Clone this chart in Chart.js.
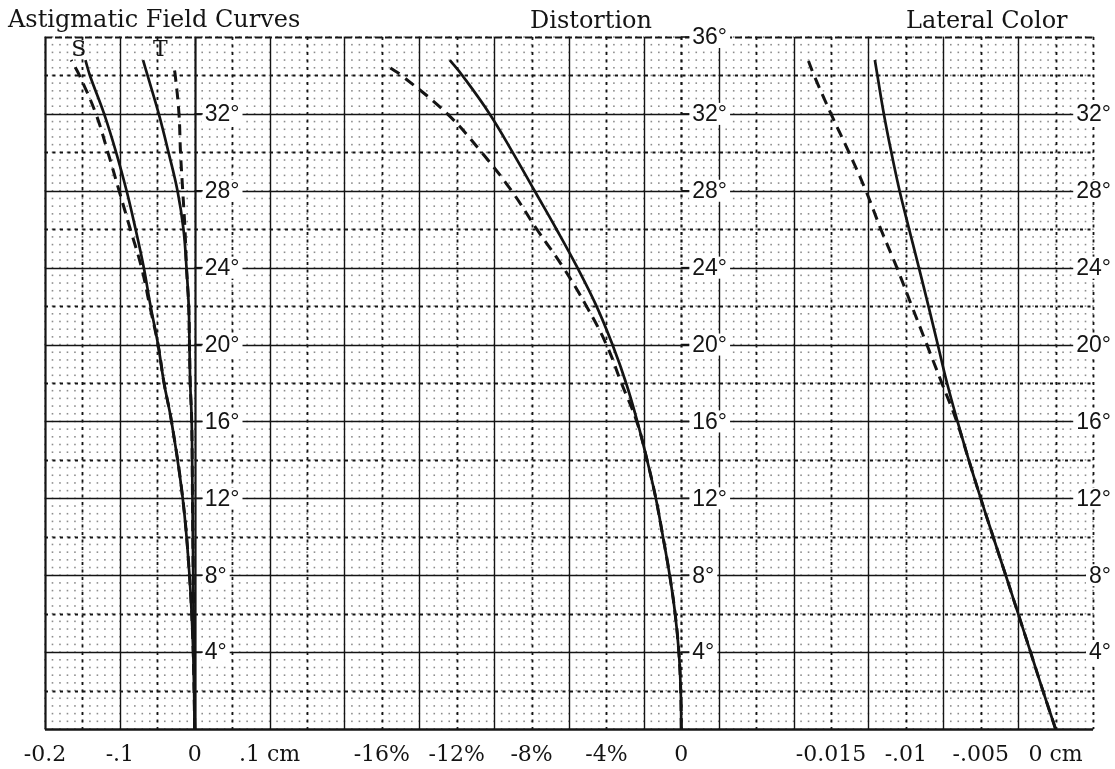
<!DOCTYPE html>
<html>
<head>
<meta charset="utf-8">
<script src="https://cdn.jsdelivr.net/npm/chart.js@4.4.0/dist/chart.umd.min.js"></script>
<style>
  html, body { margin: 0; padding: 0; background: #fff; }
  #wrap { width: 1115px; height: 769px; }
</style>
</head>
<body>
<div id="wrap"><canvas id="chart" width="1115" height="769"></canvas></div>
<script>
// --- DATA (field angle in degrees) ---
const astigAngles = [0, 4, 8, 12, 16, 18, 20, 22, 24, 26, 28, 30, 32, 34, 34.8];
const sagSolid  = [0, -0.002, -0.007, -0.016, -0.031, -0.041, -0.049, -0.059, -0.068, -0.079, -0.091, -0.105, -0.121, -0.140, -0.146];
const sagDashed = [0, -0.002, -0.007, -0.016, -0.031, -0.041, -0.049, -0.060, -0.071, -0.086, -0.101, -0.116, -0.132, -0.154, -0.165];
const tanSolid  = [0, -0.001, -0.002, -0.003, -0.004, -0.006, -0.007, -0.008, -0.011, -0.015, -0.023, -0.035, -0.048, -0.063, -0.069];
const tanDashAngles = [0, 4, 8, 12, 16, 18, 20, 22, 24, 26, 28, 30, 32, 34, 34.5];
const tanDashed = [0, -0.001, -0.002, -0.003, -0.004, -0.006, -0.007, -0.008, -0.011, -0.013, -0.016, -0.019, -0.021, -0.026, -0.028];

const distAngles = [0, 2, 4, 6, 8, 10, 12, 14, 16, 18, 20, 22, 24, 26, 28, 30, 32, 34, 34.8];
const distSolid  = [0, -0.03, -0.13, -0.33, -0.62, -0.98, -1.36, -1.83, -2.35, -2.95, -3.68, -4.53, -5.55, -6.67, -7.84, -9.01, -10.24, -11.7, -12.37];
const distDashAngles = [0, 2, 4, 6, 8, 10, 12, 14, 16, 18, 20, 22, 24, 26, 28, 30, 32, 34, 34.4];
const distDashed = [0, -0.03, -0.13, -0.33, -0.62, -0.98, -1.36, -1.83, -2.38, -3.2, -4.0, -5.07, -6.3, -7.72, -9.07, -10.67, -12.5, -14.95, -15.57];

const latAngles = [0, 2, 4, 6, 8, 10, 12, 14, 16, 18, 20, 22, 24, 26, 28, 30, 32, 34, 34.8];
const latSolid  = [0, -0.00085, -0.00167, -0.0025, -0.00333, -0.00417, -0.005, -0.0058, -0.00655, -0.00725, -0.00787, -0.00849, -0.00913, -0.00978, -0.01042, -0.01097, -0.01147, -0.0119, -0.01207];
const latDashed = [0, -0.00085, -0.00167, -0.0025, -0.00333, -0.00417, -0.005, -0.0058, -0.0066, -0.0076, -0.0086, -0.0096, -0.0106, -0.01167, -0.01267, -0.0138, -0.015, -0.01613, -0.01653];

// --- TICK LABELS ---
const degreeTicks = [4, 8, 12, 16, 20, 24, 28, 32];
const distDegreeTicks = [4, 8, 12, 16, 20, 24, 28, 32, 36];
const astigTicks = [-0.2, -0.1, 0, 0.1];
const astigTickText = ['-0.2', '-.1', '0', '.1 cm'];
const distTicks = [-16, -12, -8, -4, 0];
const distTickText = ['-16%', '-12%', '-8%', '-4%', '0'];
const latTicks = [-0.015, -0.01, -0.005, 0];
const latTickText = ['-0.015', '-.01', '-.005', '0 cm'];

const INK = '#141414';
const SERIF = '"DejaVu Serif", "Liberation Serif", serif';
const SANS = '"Liberation Sans", Arial, sans-serif';

function toPoints(angles, values) {
    return values.map((v, i) => ({ x: v, y: angles[i] }));
}

function curve(angles, values, axisId, dashed) {
    return {
        data: toPoints(angles, values),
        xAxisID: axisId,
        yAxisID: 'y',
        borderColor: INK,
        borderWidth: dashed ? 3 : 2.7,
        borderDash: dashed ? [11, 7] : [],
        pointRadius: 0,
        fill: false,
        tension: 0.4
    };
}

// graph paper + in-plot labels, all placed through the chart scales
const paperPlugin = {
    id: 'paper',
    beforeDatasetsDraw(chart) {
        const { ctx, chartArea: a, scales } = chart;
        const xs = scales.xAstig, ys = scales.y;
        ctx.save();

        // fine dot lattice
        ctx.fillStyle = 'rgba(0,0,0,0.45)';
        for (let i = 0; i <= 140; i++) {
            const px = xs.getPixelForValue(-0.2 + i * 0.01);
            for (let j = 0; j <= 90; j++) {
                const py = ys.getPixelForValue(j * 0.4);
                ctx.fillRect(px - 0.8, py - 0.8, 1.6, 1.6);
            }
        }

        // vertical lines
        for (let k = 0; k <= 28; k++) {
            const px = Math.round(xs.getPixelForValue(-0.2 + k * 0.05)) + 0.5;
            const solid = k % 2 === 0 && k !== 28;
            ctx.strokeStyle = INK;
            ctx.lineWidth = (k === 0 || k === 4) ? 2.2 : (k === 17 ? 2.2 : (solid ? 1.4 : 1.8));
            ctx.setLineDash(solid ? [] : [3, 4.5]);
            ctx.beginPath();
            ctx.moveTo(px, a.top);
            ctx.lineTo(px, a.bottom);
            ctx.stroke();
        }

        // horizontal lines
        for (let d = 0; d <= 36; d += 2) {
            const py = Math.round(ys.getPixelForValue(d)) + 0.5;
            ctx.strokeStyle = INK;
            if (d === 0) { ctx.lineWidth = 2.4; ctx.setLineDash([]); }
            else if (d === 36) { ctx.lineWidth = 1.8; ctx.setLineDash([7, 3]); }
            else if (d % 4 === 0) { ctx.lineWidth = 1.5; ctx.setLineDash([]); }
            else { ctx.lineWidth = 1.8; ctx.setLineDash([3, 4.5]); }
            ctx.beginPath();
            ctx.moveTo(a.left, py);
            ctx.lineTo(a.right, py);
            ctx.stroke();
        }
        ctx.setLineDash([]);

        // degree labels with white backing
        ctx.font = '23px ' + SANS;
        ctx.textBaseline = 'middle';
        const label = (text, x, y, align) => {
            const w = ctx.measureText(text).width;
            const left = align === 'right' ? x - w : x;
            ctx.fillStyle = '#fff';
            ctx.fillRect(left - 3, y - 11, w + 6, 22);
            ctx.fillStyle = INK;
            ctx.textAlign = 'left';
            ctx.fillText(text, left, y + 1);
        };
        const tick = (x, y) => {
            ctx.strokeStyle = INK;
            ctx.lineWidth = 1.6;
            ctx.beginPath();
            ctx.moveTo(x, y);
            ctx.lineTo(x + 8, y);
            ctx.stroke();
        };
        const ax0 = scales.xAstig.getPixelForValue(0);
        const dx0 = scales.xDist.getPixelForValue(0);
        degreeTicks.forEach(d => {
            const py = ys.getPixelForValue(d);
            label(d + '°', ax0 + 10, py, 'left');
            tick(ax0, py);
            label(d + '°', a.right + 18, py, 'right');
        });
        distDegreeTicks.forEach(d => {
            const py = ys.getPixelForValue(d);
            label(d + '°', dx0 + 11, py, 'left');
            tick(dx0, py);
        });

        // S / T curve names
        ctx.font = '22px ' + SERIF;
        ctx.textAlign = 'center';
        ctx.fillStyle = INK;
        ctx.fillText('S', xs.getPixelForValue(-0.155), ys.getPixelForValue(35.3));
        ctx.fillText('T', xs.getPixelForValue(-0.046), ys.getPixelForValue(35.3));
        ctx.restore();
    },
    afterDraw(chart) {
        const { ctx, chartArea: a, scales } = chart;
        ctx.save();
        ctx.fillStyle = INK;
        ctx.textBaseline = 'alphabetic';
        ctx.textAlign = 'left';
        ctx.font = '24px ' + SERIF;
        ctx.fillText('Astigmatic Field Curves', 8, 27, 310);
        ctx.fillText('Distortion', 530, 28, 126);
        ctx.fillText('Lateral Color', 906, 28, 168);

        ctx.font = '22px ' + SERIF;
        ctx.textAlign = 'center';
        const by = a.bottom + 32;
        astigTicks.forEach((v, i) => ctx.fillText(astigTickText[i], scales.xAstig.getPixelForValue(v), by));
        distTicks.forEach((v, i) => ctx.fillText(distTickText[i], scales.xDist.getPixelForValue(v), by));
        latTicks.forEach((v, i) => ctx.fillText(latTickText[i], scales.xLat.getPixelForValue(v), by));
        ctx.restore();
    }
};

const hidden = { display: false };

new Chart(document.getElementById('chart'), {
    type: 'line',
    data: {
        datasets: [
            curve(astigAngles, sagSolid, 'xAstig', false),
            curve(astigAngles, sagDashed, 'xAstig', true),
            curve(astigAngles, tanSolid, 'xAstig', false),
            curve(tanDashAngles, tanDashed, 'xAstig', true),
            curve(distAngles, distSolid, 'xDist', false),
            curve(distDashAngles, distDashed, 'xDist', true),
            curve(latAngles, latSolid, 'xLat', false),
            curve(latAngles, latDashed, 'xLat', true)
        ]
    },
    options: {
        indexAxis: 'y',
        responsive: false,
        animation: false,
        layout: { padding: { left: 45, right: 22, top: 37, bottom: 40 } },
        scales: {
            y: { type: 'linear', min: 0, max: 36, ...hidden },
            xAstig: { type: 'linear', axis: 'x', min: -0.2, max: 1.2, ...hidden },
            xDist: { type: 'linear', axis: 'x', min: -34, max: 22, ...hidden },
            xLat: { type: 'linear', axis: 'x', min: -0.0675, max: 0.0025, ...hidden }
        },
        plugins: { legend: { display: false }, tooltip: { enabled: false } }
    },
    plugins: [paperPlugin]
});
</script>
</body>
</html>
